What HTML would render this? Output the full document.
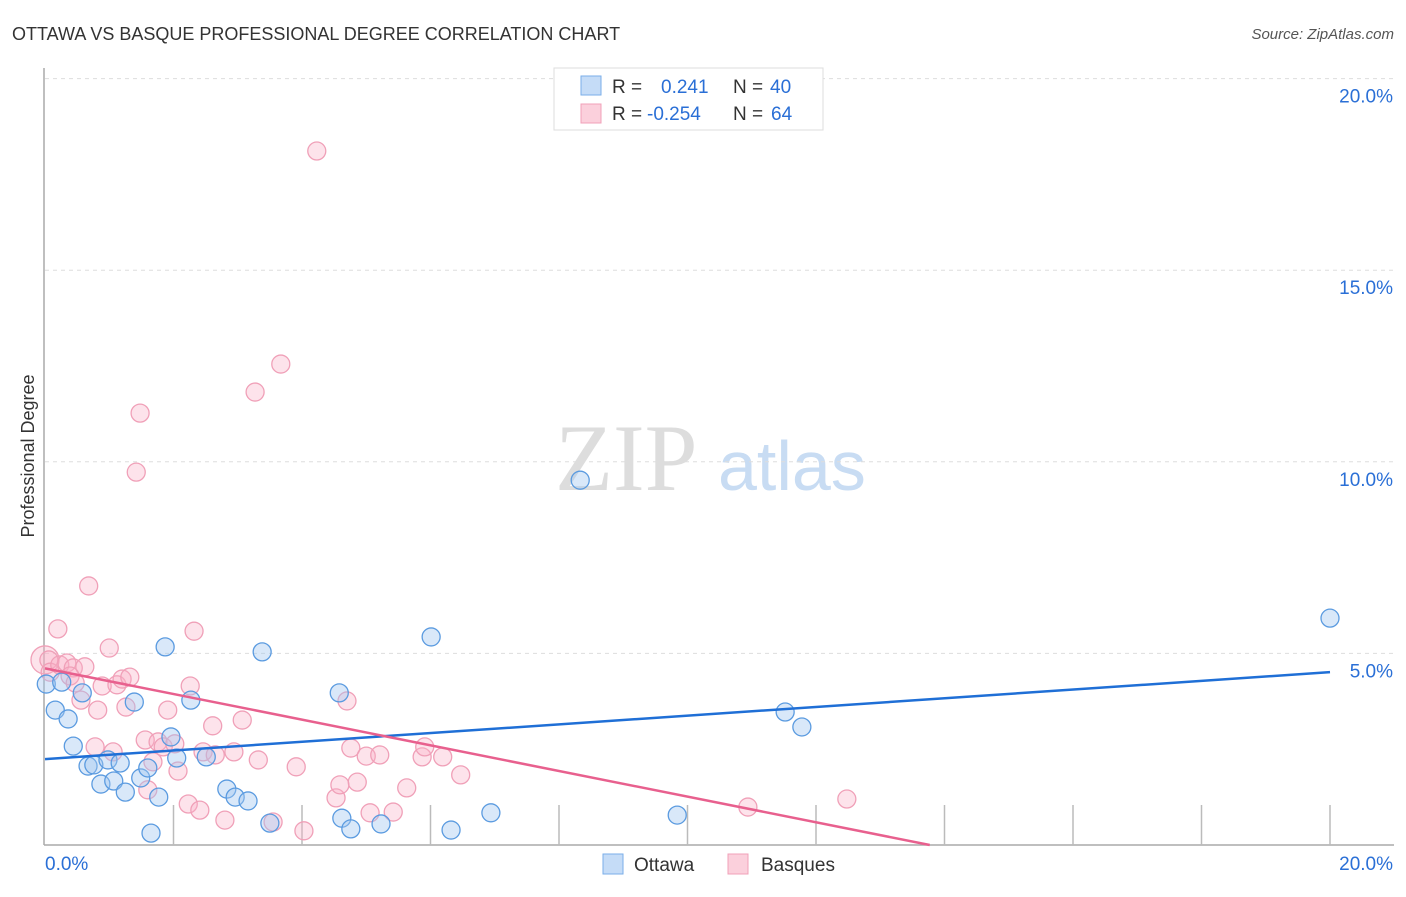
<!DOCTYPE html>
<html><head><meta charset="utf-8"><style>
body{margin:0;background:#fff;font-family:"Liberation Sans",sans-serif;}
</style></head><body>
<svg width="1406" height="892" xmlns="http://www.w3.org/2000/svg" id="chart">
<text x="12" y="40" font-size="18" fill="#333">OTTAWA VS BASQUE PROFESSIONAL DEGREE CORRELATION CHART</text>
<text x="1394" y="39" font-size="15" fill="#555" font-style="italic" text-anchor="end">Source: ZipAtlas.com</text>
<text x="555" y="490" font-size="95" fill="#ddd" font-family="Liberation Serif,serif">ZIP</text>
<text x="718" y="490" font-size="70" fill="#c8dcf3">atlas</text>
<text transform="translate(34,456) rotate(-90)" font-size="18" fill="#333" text-anchor="middle">Professional Degree</text>
<g id="grid"></g><g id="pts"></g><g id="lines"></g>
<g>
<rect x="554" y="68" width="269" height="62" fill="#fff" stroke="#ddd"/>
<rect x="581" y="76" width="20" height="19" fill="#c5dcf7" stroke="#7aaee8"/>
<rect x="581" y="104" width="20" height="19" fill="#fbd0dc" stroke="#f0a0b8"/>
<text x="612" y="93" font-size="19" fill="#333">R =</text>
<text x="661" y="93" font-size="19" fill="#2a6fd6">0.241</text>
<text x="733" y="93" font-size="19" fill="#333">N =</text>
<text x="770" y="93" font-size="19" fill="#2a6fd6">40</text>
<text x="612" y="120" font-size="19" fill="#333">R =</text>
<text x="647" y="120" font-size="19" fill="#2a6fd6">-0.254</text>
<text x="733" y="120" font-size="19" fill="#333">N =</text>
<text x="771" y="120" font-size="19" fill="#2a6fd6">64</text>
</g>
<g>
<rect x="603" y="854" width="20" height="20" fill="#c5dcf7" stroke="#7aaee8"/>
<text x="634" y="871" font-size="19" fill="#333">Ottawa</text>
<rect x="728" y="854" width="20" height="20" fill="#fbd0dc" stroke="#f0a0b8"/>
<text x="761" y="871" font-size="19" fill="#333">Basques</text>
</g>
</svg>
<script>
const yTicks=[5,10,15,20];
const ottX=[0.02,0.26,0.16,0.36,0.58,0.44,0.67,0.76,0.87,0.98,1.07,1.17,1.25,1.39,1.49,1.60,1.65,1.77,1.87,1.96,2.05,2.27,2.51,2.83,2.96,3.16,3.38,3.50,4.58,4.62,4.76,5.23,6.01,6.32,6.94,8.33,9.84,11.52,11.78,20.0];
const ottY=[4.20,4.25,3.52,3.29,3.97,2.58,2.06,2.09,1.59,2.22,1.67,2.14,1.38,3.73,1.75,2.01,0.31,1.25,5.17,2.82,2.27,3.78,2.30,1.46,1.25,1.15,5.04,0.57,3.97,0.70,0.42,0.55,5.43,0.39,0.84,9.52,0.78,3.47,3.08,5.92];
const basX=[0.0,0.06,0.20,0.08,0.23,0.34,0.44,0.39,0.47,0.56,0.62,0.68,0.78,0.82,0.89,1.00,1.06,1.12,1.20,1.26,1.32,1.42,1.48,1.56,1.60,1.68,1.76,1.84,1.91,2.02,2.07,2.23,2.26,2.32,2.41,2.46,2.61,2.65,2.80,2.94,3.07,3.32,3.55,3.27,3.67,3.91,4.03,4.23,4.53,4.59,4.70,4.76,4.86,5.00,5.06,5.21,5.42,5.63,5.87,5.91,6.19,6.47,10.94,12.48];
const basY=[4.83,4.83,5.64,4.51,4.70,4.75,4.62,4.41,4.23,3.78,4.65,6.76,2.56,3.52,4.15,5.14,2.43,4.18,4.33,3.60,4.38,9.73,11.27,2.74,1.44,2.17,2.69,2.56,3.52,2.64,1.93,1.07,4.15,5.58,0.91,2.43,3.11,2.35,0.65,2.43,3.26,2.22,0.60,11.82,12.55,2.04,0.37,18.11,1.23,1.57,3.76,2.53,1.64,2.32,0.84,2.35,0.86,1.49,2.30,2.56,2.30,1.83,0.99,1.20];
const ottTrend=[2.24,4.51];
const basTrend=[4.61,0.0,13.77];
const NS="http://www.w3.org/2000/svg";
const X=v=>45+v/20*1285, Y=v=>845-v/5*191.6;
function mk(t,a,p){const e=document.createElementNS(NS,t);for(const k in a)e.setAttribute(k,a[k]);p.appendChild(e);return e;}
const g=document.getElementById('grid');
mk('line',{x1:44,y1:68,x2:44,y2:845,stroke:'#aaa','stroke-width':1.5},g);
mk('line',{x1:44,y1:845,x2:1394,y2:845,stroke:'#aaa','stroke-width':1.5},g);
yTicks.forEach(t=>{
 const l=mk('line',{x1:45,y1:Y(t),x2:1394,y2:Y(t),stroke:'#ddd','stroke-dasharray':'4,4'},g);
 
 
 const tx=mk('text',{x:1393,y:Y(t)+24,'font-size':19,fill:'#2a6fd6','text-anchor':'end'},g);
 tx.textContent=t.toFixed(1)+'%';
 
 
});
for(let i=1;i<=10;i++){const x=45+i*128.5;const l=mk('line',{x1:x,y1:805,x2:x,y2:845,stroke:'#bbb','stroke-width':1.5},g);
 
 }
const x0=mk('text',{x:45,y:870,'font-size':19,fill:'#2a6fd6'},g);x0.textContent='0.0%';


const x1=mk('text',{x:1393,y:870,'font-size':19,fill:'#2a6fd6','text-anchor':'end'},g);x1.textContent='20.0%';


const p=document.getElementById('pts');
basX.forEach((v,i)=>{const c=mk('circle',{cx:X(v),cy:Y(basY[i]),r:i==0?14:9,fill:'rgba(248,175,198,0.35)',stroke:'#f0a0b8','stroke-width':1.3},p);
 
 });
ottX.forEach((v,i)=>{const c=mk('circle',{cx:X(v),cy:Y(ottY[i]),r:9,fill:'rgba(160,198,240,0.4)',stroke:'#5b9be0','stroke-width':1.3},p);
 
 });
const L=document.getElementById('lines');
const bl=mk('line',{x1:X(0),y1:Y(ottTrend[0]),x2:X(20),y2:Y(ottTrend[1]),stroke:'#1f6fd6','stroke-width':2.5},L);


const pl=mk('line',{x1:X(0),y1:Y(basTrend[0]),x2:X(basTrend[2]),y2:Y(basTrend[1]),stroke:'#e8608e','stroke-width':2.5},L);


</script>
</body></html>
